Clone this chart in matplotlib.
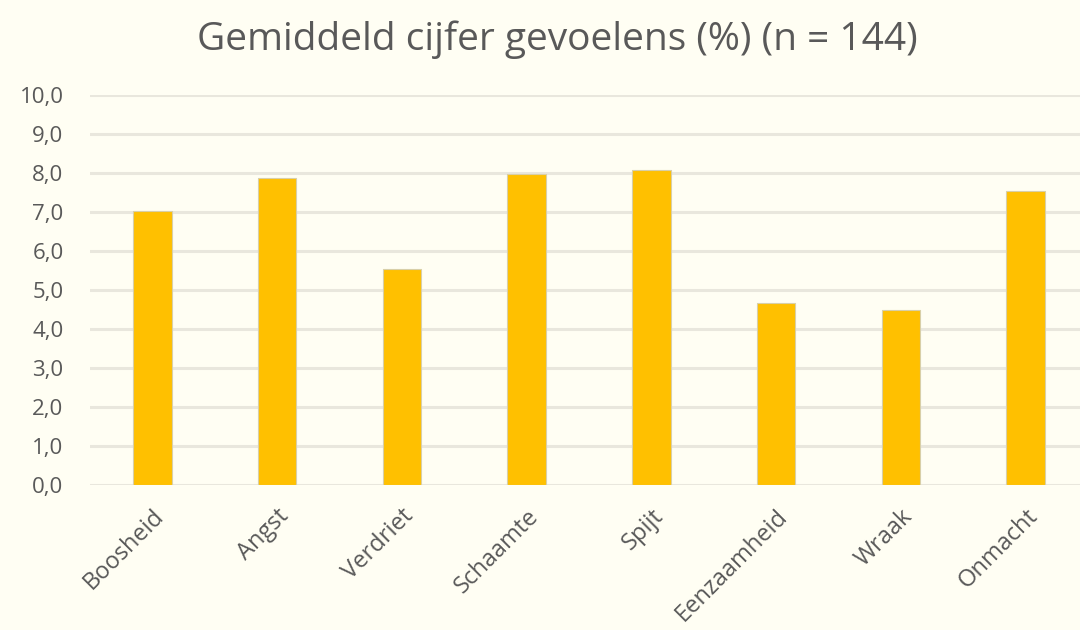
import matplotlib
matplotlib.use("Agg")
import matplotlib.pyplot as plt

categories = ["Boosheid", "Angst", "Verdriet", "Schaamte", "Spijt", "Eenzaamheid", "Wraak", "Onmacht"]
values = [7.02, 7.86, 5.54, 7.97, 8.07, 4.67, 4.48, 7.54]
yticks = [0, 1, 2, 3, 4, 5, 6, 7, 8, 9, 10]
ytick_labels = ["0,0", "1,0", "2,0", "3,0", "4,0", "5,0", "6,0", "7,0", "8,0", "9,0", "10,0"]
title = "Gemiddeld cijfer gevoelens (%) (n = 144)"

bg = "#FFFEF3"
plt.rcParams["font.family"] = ["Open Sans", "DejaVu Sans"]

fig = plt.figure(figsize=(10.8, 6.3), dpi=100, facecolor=bg)
ax = fig.add_axes([90 / 1080, 145 / 630, 998 / 1080, 390 / 630])
ax.set_facecolor(bg)

x = list(range(len(categories)))
ax.bar(x, values, width=0.31, color="#FFC000", edgecolor="#D8CFA8", linewidth=0.8, zorder=3)

ax.set_xlim(-0.5, len(categories) - 0.5)
ax.set_ylim(0, 10)
ax.set_yticks(yticks)
ax.set_yticklabels(ytick_labels)
ax.yaxis.grid(True, color="#E9E7DD", linewidth=2.2, zorder=0)
ax.set_axisbelow(True)
for s in ax.spines.values():
    s.set_visible(False)
ax.tick_params(axis="y", length=0, pad=19, labelsize=16, labelcolor="#595959")
ax.tick_params(axis="x", length=0, pad=14, labelsize=17, labelcolor="#595959")
ax.set_xticks(x)
ax.set_xticklabels(categories, rotation=45, ha="right", rotation_mode="anchor")

fig.text(0.516, 0.937, title, ha="center", va="center", fontsize=28, color="#595959")

fig.savefig("out.png", dpi=100, facecolor=bg)
